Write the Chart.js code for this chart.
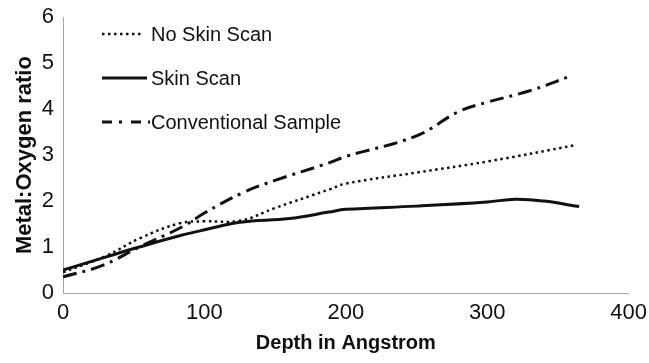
<!DOCTYPE html>
<html>
<head>
<meta charset="utf-8">
<script src="https://cdn.jsdelivr.net/npm/chart.js@4.4.0/dist/chart.umd.min.js"></script>
<style>
  html, body { margin: 0; padding: 0; background: #fff; }
  #wrap { width: 649px; height: 363px; }
</style>
</head>
<body>
<div id="wrap"><canvas id="chart" width="649" height="363"></canvas></div>
<script>
// ---- data ----
const seriesNames = ['No Skin Scan', 'Skin Scan', 'Conventional Sample'];

const noSkinDepth = [0, 30, 55, 83, 100, 125, 150, 188, 200, 250, 300, 363];
const noSkinRatio = [0.45, 0.8, 1.2, 1.52, 1.56, 1.57, 1.85, 2.25, 2.38, 2.62, 2.86, 3.22];

const skinDepth = [0, 30, 54, 83, 101, 125, 160, 188, 200, 250, 300, 320, 340, 365];
const skinRatio = [0.5, 0.78, 1.0, 1.25, 1.38, 1.54, 1.62, 1.76, 1.82, 1.89, 1.98, 2.04, 2.0, 1.88];

const convDepth = [0, 28, 54, 85, 100, 127, 150, 188, 200, 250, 280, 300, 330, 360];
const convRatio = [0.35, 0.6, 1.0, 1.45, 1.74, 2.18, 2.45, 2.83, 2.97, 3.42, 3.95, 4.15, 4.4, 4.73];

const xTicks = [0, 100, 200, 300, 400];
const yTicks = [0, 1, 2, 3, 4, 5, 6];

// ---- styles ----
const AXIS = '#a6a6a6';
const INK = '#111';
const FONT = '"Liberation Sans", Arial, sans-serif';
const DASHES = {
  dotted: [2.5, 3.5],
  solid: [],
  dashDot: [14, 6, 3, 6],
};

function pts(xs, ys) {
  return xs.map((x, i) => ({ x, y: ys[i] }));
}

function lineSet(label, data, dash, width) {
  return {
    label,
    data,
    borderColor: INK,
    backgroundColor: 'transparent',
    borderWidth: width,
    borderDash: dash,
    pointRadius: 0,
    tension: 0.4,
    showLine: true,
  };
}

/* legend drawn inside the plot, top-left, like the original */
const insideLegend = {
  id: 'insideLegend',
  afterDraw(chart) {
    const ctx = chart.ctx;
    const rows = [
      { y: 34, dash: DASHES.dotted, w: 2.5, x1: 102, x2: 142 },
      { y: 78, dash: DASHES.solid, w: 3, x1: 102, x2: 147 },
      { y: 122, dash: [10, 7, 3, 9], w: 3, x1: 102, x2: 150 },
    ];
    ctx.save();
    ctx.font = '20px ' + FONT;
    ctx.fillStyle = INK;
    ctx.textBaseline = 'middle';
    rows.forEach((r, i) => {
      ctx.beginPath();
      ctx.setLineDash(r.dash);
      ctx.lineWidth = r.w;
      ctx.strokeStyle = INK;
      ctx.moveTo(r.x1, r.y);
      ctx.lineTo(r.x2, r.y);
      ctx.stroke();
      ctx.fillText(seriesNames[i], 151, r.y + 1);
    });
    ctx.restore();
  },
};

new Chart(document.getElementById('chart'), {
  type: 'scatter',
  data: {
    datasets: [
      lineSet(seriesNames[0], pts(noSkinDepth, noSkinRatio), DASHES.dotted, 2.5),
      lineSet(seriesNames[1], pts(skinDepth, skinRatio), DASHES.solid, 3),
      lineSet(seriesNames[2], pts(convDepth, convRatio), DASHES.dashDot, 3),
    ],
  },
  options: {
    responsive: false,
    animation: false,
    layout: { padding: { top: 11, right: 19, left: 0, bottom: 0 } },
    plugins: { legend: { display: false }, tooltip: { enabled: false } },
    scales: {
      x: {
        type: 'linear',
        min: 0,
        max: 400,
        afterBuildTicks: (s) => { s.ticks = xTicks.map((v) => ({ value: v })); },
        afterFit: (s) => { s.height = 70; },
        grid: { display: false, drawTicks: true, tickLength: 5, tickColor: AXIS },
        border: { color: AXIS, width: 1 },
        ticks: { color: INK, font: { size: 22, family: FONT }, padding: 2, maxRotation: 0 },
        title: {
          display: true,
          text: 'Depth in Angstrom',
          color: INK,
          font: { size: 20, weight: 'bold', family: FONT },
          padding: { top: 2, bottom: 8 },
        },
      },
      y: {
        min: 0,
        max: 6,
        afterBuildTicks: (s) => { s.ticks = yTicks.map((v) => ({ value: v })); },
        afterFit: (s) => { s.width = 63; },
        grid: { display: false, drawTicks: true, tickLength: 5, tickColor: AXIS },
        border: { color: AXIS, width: 1 },
        ticks: { color: INK, font: { size: 22, family: FONT }, padding: 4 },
        title: {
          display: true,
          text: 'Metal:Oxygen ratio',
          color: INK,
          font: { size: 22, weight: 'bold', family: FONT },
          padding: { top: 12, bottom: 2 },
        },
      },
    },
  },
  plugins: [insideLegend],
});
</script>
</body>
</html>
